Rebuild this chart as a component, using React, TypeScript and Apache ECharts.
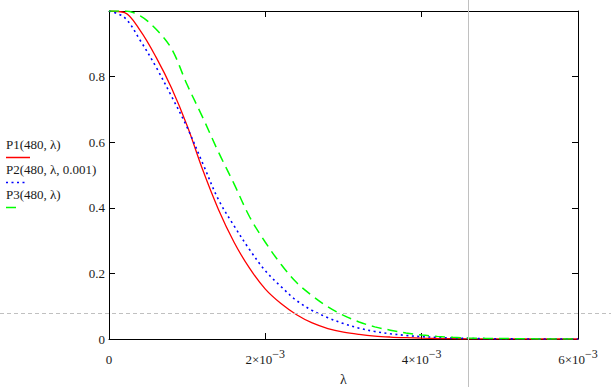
import React, { useEffect, useRef } from 'react';
import * as echarts from 'echarts';

const lambdaValues = [
  0, 0.0002, 0.0004, 0.0006, 0.0008, 0.001, 0.0012, 0.0014, 0.0016, 0.0018,
  0.002, 0.0022, 0.0024, 0.0026, 0.0028, 0.003, 0.0032, 0.0034, 0.0036, 0.0038,
  0.004, 0.0042, 0.0044, 0.0046, 0.0048, 0.005, 0.0052, 0.0054, 0.0056, 0.0058, 0.006,
];
const p1Values = [
  1.0, 0.995, 0.94, 0.86, 0.765, 0.65, 0.515, 0.395, 0.295, 0.215,
  0.152, 0.108, 0.074, 0.049, 0.032, 0.021, 0.014, 0.009, 0.006, 0.004,
  0.0025, 0.0015, 0.001, 0.0005, 0.0003, 0.0002, 0.0001, 0, 0, 0, 0,
];
const p2Values = [
  1.0, 0.98, 0.91, 0.83, 0.74, 0.645, 0.535, 0.425, 0.345, 0.272,
  0.208, 0.16, 0.117, 0.087, 0.065, 0.047, 0.033, 0.023, 0.016, 0.011,
  0.007, 0.005, 0.003, 0.002, 0.001, 0.0005, 0.0003, 0.0002, 0.0001, 0, 0,
];
const p3Values = [
  1.0, 1.0, 0.985, 0.945, 0.885, 0.775, 0.675, 0.57, 0.473, 0.372,
  0.295, 0.228, 0.172, 0.132, 0.098, 0.072, 0.052, 0.037, 0.027, 0.018,
  0.012, 0.008, 0.005, 0.003, 0.002, 0.0015, 0.001, 0.0005, 0, 0, 0,
];
const seriesNames = ['P1(480, λ)', 'P2(480, λ, 0.001)', 'P3(480, λ)'];
const seriesColors = ['#ff0000', '#0000ff', '#00ff00'];
const xTickLabels: Record<string, string> = {
  '0': '{b|0}',
  '0.002': '{b|2×10}{s|−3}',
  '0.004': '{b|4×10}{s|−3}',
  '0.006': '{b|6×10}{s|−3}',
};
const cursorLambda = 0.00459;
const cursorValue = 0.0795;

const FONT = '"Liberation Serif", "Times New Roman", serif';
const TXT = '#1a1a1a';

export default function App() {
  const ref = useRef<HTMLDivElement>(null);
  useEffect(() => {
    if (!ref.current) return;
    const chart = echarts.init(ref.current, undefined, { renderer: 'svg' });
    const pair = (vals: number[]) => lambdaValues.map((x, i) => [x, vals[i]]);
    const xCommon = {
      type: 'value' as const,
      min: 0,
      max: 0.006,
      interval: 0.002,
      splitLine: { show: false },
      axisLine: { show: true, onZero: false, lineStyle: { color: '#000', width: 1 } },
      axisTick: { show: true, inside: true, length: 6, lineStyle: { color: '#000' } },
    };
    const yCommon = {
      type: 'value' as const,
      min: 0,
      max: 1,
      interval: 0.2,
      splitLine: { show: false },
      axisLine: { show: true, onZero: false, lineStyle: { color: '#000', width: 1 } },
      axisTick: { show: true, inside: true, length: 6, lineStyle: { color: '#000' } },
    };
    chart.setOption({
      animation: false,
      backgroundColor: '#fff',
      grid: {
        left: 109,
        right: 33,
        top: 11,
        bottom: 48,
        containLabel: false,
        outerBoundsMode: 'none',
      },
      xAxis: [
        {
          ...xCommon,
          position: 'bottom',
          name: 'λ',
          nameLocation: 'middle',
          nameGap: 33,
          nameTextStyle: { fontFamily: FONT, fontSize: 14, color: TXT },
          axisLabel: {
            margin: 8,
            fontFamily: FONT,
            fontSize: 13,
            color: TXT,
            formatter: (v: number) => xTickLabels[String(Number(v.toFixed(4)))] ?? '',
            rich: {
              b: { fontFamily: FONT, fontSize: 13, color: TXT, padding: [6, 0, 0, 0] },
              s: { fontFamily: FONT, fontSize: 12, color: TXT, padding: [0, 0, 6, 0] },
            },
          },
        },
        { ...xCommon, position: 'top', axisLabel: { show: false } },
      ],
      yAxis: [
        {
          ...yCommon,
          position: 'left',
          axisLabel: {
            margin: 4,
            fontFamily: FONT,
            fontSize: 13,
            color: TXT,
            formatter: (v: number) => (v >= 1 ? '' : String(Number(v.toFixed(1)))),
          },
        },
        { ...yCommon, position: 'right', axisLabel: { show: false } },
      ],
      series: [
        {
          name: seriesNames[0],
          type: 'line',
          data: pair(p1Values),
          showSymbol: false,
          smooth: 0.35,
          lineStyle: { color: seriesColors[0], width: 1.3, type: 'solid' },
        },
        {
          name: seriesNames[1],
          type: 'line',
          data: pair(p2Values),
          showSymbol: false,
          smooth: 0.35,
          lineStyle: { color: seriesColors[1], width: 1.6, type: [2, 3.5] },
        },
        {
          name: seriesNames[2],
          type: 'line',
          data: pair(p3Values),
          showSymbol: false,
          smooth: 0.35,
          lineStyle: { color: seriesColors[2], width: 1.5, type: [10, 6] },
        },
      ],
    });
    const [cx, cy] = chart.convertToPixel({ gridIndex: 0 }, [cursorLambda, cursorValue]) as number[];
    const W = 611;
    const H = 387;
    const legendY = [146, 171, 196];
    const legendLineLen = [24, 19, 16];
    const dashes: any[] = [null, [2, 3.5], [10, 6]];
    const graphic: any[] = [
      {
        type: 'line',
        z: 10,
        shape: { x1: Math.round(cx) + 0.5, y1: 0, x2: Math.round(cx) + 0.5, y2: H },
        style: { stroke: '#c0c0c0', lineWidth: 1 },
      },
      {
        type: 'line',
        z: 10,
        shape: { x1: 0, y1: Math.round(cy) + 0.5, x2: W, y2: Math.round(cy) + 0.5 },
        style: { stroke: '#c0c0c0', lineWidth: 1, lineDash: [4, 3] },
      },
    ];
    seriesNames.forEach((n, i) => {
      graphic.push({
        type: 'text',
        left: 6,
        top: legendY[i] - 8,
        style: { text: n, fontFamily: FONT, fontSize: 13, fill: TXT },
      });
      graphic.push({
        type: 'line',
        shape: { x1: 6, y1: legendY[i] + 11.5, x2: 6 + legendLineLen[i], y2: legendY[i] + 11.5 },
        style: { stroke: seriesColors[i], lineWidth: 1.5, lineDash: dashes[i] ?? undefined },
      });
    });
    chart.setOption({ graphic });
    return () => chart.dispose();
  }, []);
  return (
    <div
      ref={ref}
      style={{ position: 'fixed', left: 0, top: 0, width: 611, height: 387, background: '#fff' }}
    />
  );
}
